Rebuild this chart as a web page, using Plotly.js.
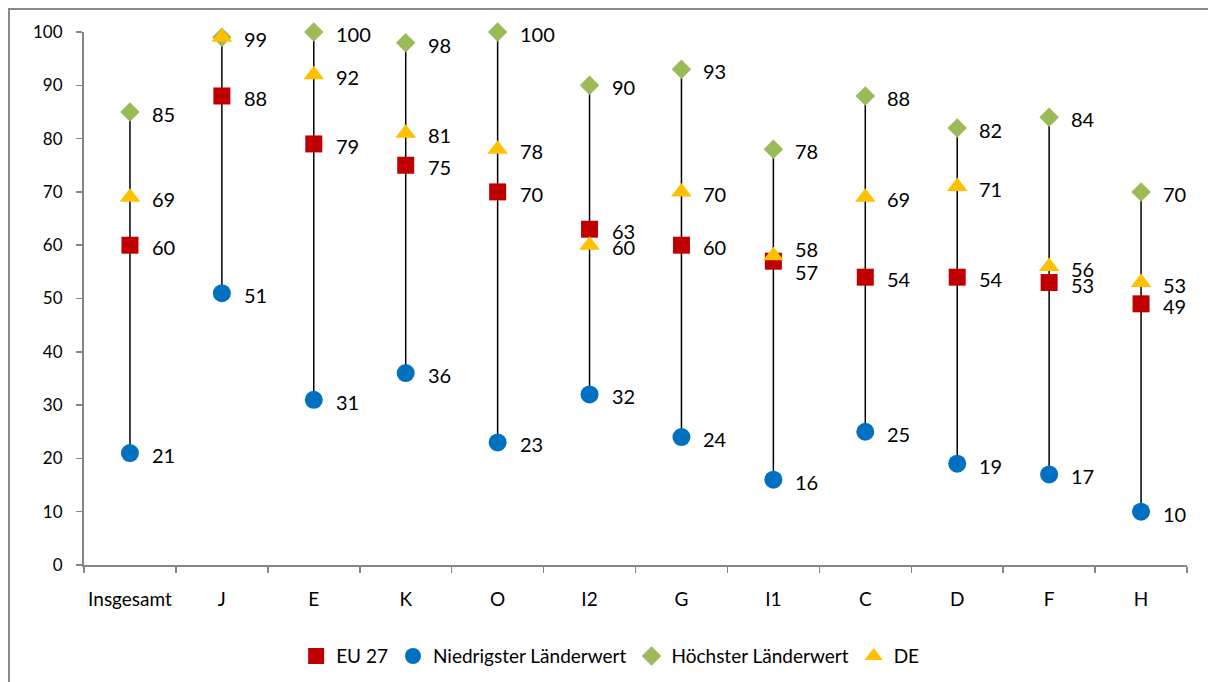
<!DOCTYPE html>
<html>
<head>
<meta charset="utf-8">
<script src="https://cdn.plot.ly/plotly-3.0.1.min.js"></script>
<style>
  html, body { margin: 0; padding: 0; background: #fff; }
  #chart { position: absolute; left: 0; top: 0; width: 1208px; height: 682px; }
  #frame { position: absolute; left: 8px; top: 8px; width: 1240px; height: 720px;
           border-left: 2px solid #8a8a8a; border-top: 2px solid #8a8a8a; pointer-events: none; }
</style>
</head>
<body>
<div id="chart"></div>
<div id="frame"></div>
<script>
// Sectors and their values (percent)
const categories = ['Insgesamt', 'J', 'E', 'K', 'O', 'I2', 'G', 'I1', 'C', 'D', 'F', 'H'];
const eu27    = [60, 88, 79, 75, 70, 63, 60, 57, 54, 54, 53, 49];
const lowest  = [21, 51, 31, 36, 23, 32, 24, 16, 25, 19, 17, 10];
const highest = [85, 99, 100, 98, 100, 90, 93, 78, 88, 82, 84, 70];
const de      = [69, 99, 92, 81, 78, 60, 70, 58, 69, 71, 56, 53];

const seriesNames = ['EU 27', 'Niedrigster Länderwert', 'Höchster Länderwert', 'DE'];

const FONT = 'Lato, "Open Sans", sans-serif';
const AXIS_GREY = '#868686';

// Range line from lowest to highest value in each sector
const rangeX = [], rangeY = [];
categories.forEach((c, i) => {
  rangeX.push(c, c, null);
  rangeY.push(lowest[i], highest[i], null);
});

const traces = [
  { x: rangeX, y: rangeY, mode: 'lines', line: { color: '#000', width: 1.5 },
    showlegend: false, hoverinfo: 'skip', cliponaxis: false },
  { x: categories, y: eu27, name: seriesNames[0], mode: 'markers', cliponaxis: false,
    marker: { symbol: 'square', size: 17, color: '#C00000' } },
  { x: categories, y: lowest, name: seriesNames[1], mode: 'markers', cliponaxis: false,
    marker: { symbol: 'circle', size: 18, color: '#0070C0' } },
  { x: categories, y: highest, name: seriesNames[2], mode: 'markers', cliponaxis: false,
    marker: { symbol: 'diamond', size: 15, color: '#9BBB59' } },
  { x: categories, y: de, name: seriesNames[3], mode: 'markers', cliponaxis: false,
    marker: { symbol: 'triangle-up', size: 18, color: '#FFC000' } }
];

// Value labels to the right of each marker; close pairs are pushed apart
const annotations = [];
const allSeries = [eu27, lowest, highest, de];
categories.forEach((c, i) => {
  const seen = {};
  allSeries.forEach((s, k) => {
    const v = s[i];
    if (seen[v]) return;           // identical values share one label
    seen[v] = true;
    let shift = -2;
    allSeries.forEach((o, m) => {
      if (m === k) return;
      const d = v - o[i];
      if (d !== 0 && Math.abs(d) <= 2) shift += d > 0 ? 9 : -9;
    });
    annotations.push({
      x: c, y: v, xref: 'x', yref: 'y', text: String(v), showarrow: false,
      xanchor: 'left', yanchor: 'middle', xshift: 21, yshift: shift,
      borderpad: 0,
      font: { family: FONT, size: 20, color: '#000' }
    });
  });
});

const layout = {
  width: 1208, height: 682,
  margin: { l: 84, r: 21, t: 32, b: 117, autoexpand: false },
  paper_bgcolor: '#fff', plot_bgcolor: '#fff',
  font: { family: FONT, size: 17, color: '#000' },
  showlegend: true,
  legend: {
    orientation: 'h', x: 0.477, xanchor: 'center', y: -0.171, yanchor: 'middle',
    font: { family: FONT, size: 19, color: '#000' }, itemwidth: 30,
    traceorder: 'normal'
  },
  xaxis: {
    type: 'category', range: [-0.5, 11.5], tickson: 'boundaries',
    showline: true, linecolor: AXIS_GREY, linewidth: 2,
    ticks: 'outside', ticklen: 6, tickcolor: AXIS_GREY, tickwidth: 1.5,
    showgrid: false, zeroline: false, fixedrange: true,
    tickangle: 0, automargin: false,
    ticklabelstandoff: 16,
    tickfont: { family: FONT, size: 19, color: '#000' }
  },
  yaxis: {
    range: [0, 100], dtick: 10, tick0: 0,
    showline: true, linecolor: AXIS_GREY, linewidth: 2,
    ticks: 'outside', ticklen: 6, tickcolor: AXIS_GREY, tickwidth: 1.5,
    showgrid: false, zeroline: false, fixedrange: true, automargin: false,
    ticklabelstandoff: 10,
    tickfont: { family: FONT, size: 17, color: '#000' }
  },
  annotations: annotations
};

Plotly.newPlot('chart', traces, layout, { displayModeBar: false, staticPlot: true });
</script>
</body>
</html>
